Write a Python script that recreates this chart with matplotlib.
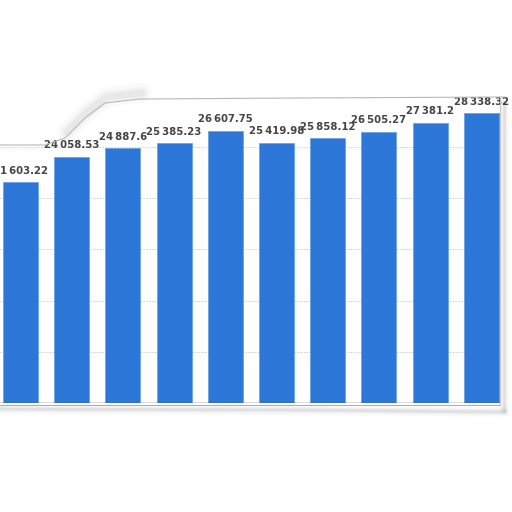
import matplotlib
matplotlib.use("Agg")
import matplotlib.pyplot as plt
from matplotlib.lines import Line2D

values = [21603.22, 24058.53, 24887.6, 25385.23, 26607.75, 25419.98,
          25858.12, 26505.27, 27381.2, 28338.32, 29300.0]
labels = ["21\u2009603.22", "24\u2009058.53", "24\u2009887.6", "25\u2009385.23",
          "26\u2009607.75", "25\u2009419.98", "25\u2009858.12", "26\u2009505.27",
          "27\u2009381.2", "28\u2009338.32", "29\u2009300"]
grid_ticks = [5000, 10000, 15000, 20000, 25000]

W = H = 512
fig = plt.figure(figsize=(5.12, 5.12), dpi=100)
fig.patch.set_facecolor("white")
ax = fig.add_axes([0, 109 / H, 500 / W, 306 / H])
ax.set_facecolor("white")

x = list(range(len(values)))
for t in grid_ticks:
    ax.axhline(t, color="#cccccc", lw=0.7, ls=(0, (1.5, 1.5)), zorder=0)

ax.bar(x, values, width=0.68, color="#2d77d9", edgecolor="#5b95e0",
       linewidth=0.4, zorder=2)
for xi, v, lab in zip(x, values, labels):
    ax.annotate(lab, (xi, v), xytext=(0, 4.5), textcoords="offset points",
                ha="center", va="bottom", fontsize=7.3, fontweight="bold",
                color="#444444", annotation_clip=False, clip_on=False, zorder=5)

ax.set_xlim(-0.40, 9.365)
ax.set_ylim(0, 29883)
ax.axhline(0, color="#555555", lw=1.0, zorder=3)
for s in ax.spines.values():
    s.set_visible(False)
ax.set_xticks([])
ax.set_yticks([])

# torn paper edge / soft shadow decoration (figure pixel coords)
def fline(xs, ys, **kw):
    fig.add_artist(Line2D([a / W for a in xs], [1 - b / H for b in ys],
                          transform=fig.transFigure, solid_capstyle="round", **kw))

top_x = [0, 45, 65, 85, 105, 140, 300, 505]
top_y = [145, 145, 138, 118, 103, 99, 98, 97]
for lw, a in [(14, 0.02), (9, 0.03), (5, 0.04)]:
    fline([t + 2 for t in top_x[2:6]], [t - 6 for t in top_y[2:6]], color="black", lw=lw, alpha=a)
fline(top_x, top_y, color="#b8b8b8", lw=0.8)

for lw, a in [(7, 0.025), (4, 0.04), (2, 0.06)]:
    fline([504, 504], [102, 410], color="black", lw=lw, alpha=a)
    fline([0, 300, 505], [409, 410, 412], color="black", lw=lw, alpha=a)
fline([500, 500], [97, 405], color="#c4c4c4", lw=0.7)
fline([0, 500], [405, 405], color="#aaaaaa", lw=0.7)

fig.savefig("out.png", dpi=100, facecolor="white")
